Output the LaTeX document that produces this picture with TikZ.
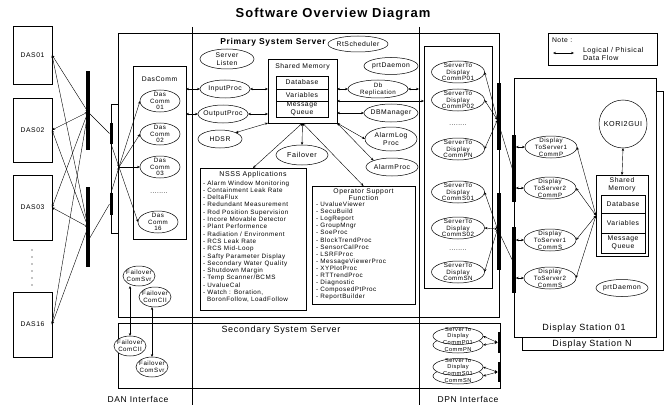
\documentclass[tikz,border=0pt]{standalone}
\usepackage{fontspec}
\setmainfont{Liberation Sans}[LetterSpace=8]
\usetikzlibrary{arrows.meta,shapes.geometric}
\begin{document}
\begin{tikzpicture}[x=1pt,y=-1pt,
  every node/.style={inner sep=0pt, outer sep=0pt},
  lbl/.style={font=\fontsize{6.2}{6.8}\selectfont, align=center},
  hdr/.style={font=\fontsize{6.8}{7.6}\selectfont, align=center},
  ell/.style={ellipse, draw, line width=0.5pt, fill=white},
  rbox/.style={draw, line width=0.6pt, anchor=north west},
  busbar/.style={fill=black, minimum width=3.5pt},
  flow/.style={<->, line width=0.4pt, >={Stealth[length=3pt,width=2.4pt]}},
  oneway/.style={->, line width=0.4pt, >={Stealth[length=3pt,width=2.4pt]}},
  thinline/.style={line width=0.4pt},
  lst/.style={font=\fontsize{6.3}{7.3}\selectfont, align=left, anchor=north west},
]
\useasboundingbox (0,0) rectangle (668,409);

% title
\node[font=\bfseries\fontsize{13}{15}\selectfont] (title) at (333,14) {Software Overview Diagram};

% interface lines
\coordinate (dantop) at (192,27);
\coordinate (danbot) at (192,405);
\coordinate (dpntop) at (419,27);
\coordinate (dpnbot) at (419,405);
\draw[line width=0.6pt] (dantop) -- (danbot);
\draw[line width=0.6pt] (dpntop) -- (dpnbot);

% DAS boxes
\node[rbox, minimum width=39pt, minimum height=58pt] (das01) at (13,26) {};
\node[hdr] (das01t) at (das01) {DAS01};
\node[rbox, minimum width=39pt, minimum height=64pt] (das02) at (13,98) {};
\node[hdr] (das02t) at (das02) {DAS02};
\node[rbox, minimum width=39pt, minimum height=65pt] (das03) at (13,175) {};
\node[hdr] (das03t) at (das03) {DAS03};
\node[rbox, minimum width=39pt, minimum height=65pt] (das16) at (13,292) {};
\node[hdr] (das16t) at (das16) {DAS16};
\foreach \yy in {250,257,264,271,278,285} { \fill (32,\yy) circle (0.6); }

% DAN bus bars
\node[busbar, minimum height=79pt] (bus1) at (88,110.5) {};
\node[busbar, minimum height=80pt] (bus2) at (88,227) {};
\node[busbar, minimum width=3pt, minimum height=21pt] (sbus1) at (111,133.5) {};
\node[busbar, minimum width=3pt, minimum height=22pt] (sbus2) at (111,204) {};
\coordinate (b1) at (88,112);
\coordinate (b2) at (88,227);
\coordinate (b2l) at (88,241);
\coordinate (P) at (119,167);
\foreach \d in {das01,das02,das03,das16} {
  \draw[flow] (\d.east) -- (b1);
  \draw[flow] (\d.east) -- (b2);
}
\draw[thinline] (b1) -- (sbus1.west);
\draw[thinline] (b2l) -- (sbus2.west);
\draw[thinline] (118,104) -- (111,104) -- (111,233) -- (118,233);
\draw[oneway] (sbus1.south) -- (P);
\draw[oneway] (sbus2.north) -- (P);

% server boxes
\node[rbox, minimum width=381pt, minimum height=284pt] (prim) at (118,33) {};
\node[font=\bfseries\fontsize{8.5}{10}\selectfont] (primt) at (273,42) {Primary System Server};
\node[rbox, minimum width=382pt, minimum height=65pt] (sec) at (118,323) {};
\node[font=\fontsize{9}{10}\selectfont] (sect) at (281,330) {Secondary System Server};

% DasComm group
\node[rbox, minimum width=53pt, minimum height=173pt] (dcbox) at (133,66) {};
\node[hdr] (dcboxt) at (159.5,79) {DasComm};
\node[ell, minimum width=40pt, minimum height=22pt] (dc01) at (160,101) {};
\node[lbl] (dc01t) at (dc01) {Das\\Comm\\01};
\node[ell, minimum width=40pt, minimum height=22pt] (dc02) at (160,134) {};
\node[lbl] (dc02t) at (dc02) {Das\\Comm\\02};
\node[ell, minimum width=40pt, minimum height=22pt] (dc03) at (160,167) {};
\node[lbl] (dc03t) at (dc03) {Das\\Comm\\03};
\node[lbl] (dcdots) at (159,193) {........};
\node[ell, minimum width=40pt, minimum height=22pt] (dc16) at (158,222) {};
\node[lbl] (dc16t) at (dc16) {Das\\Comm\\16};
\foreach \d in {dc01,dc02,dc03,dc16} { \draw[oneway] (P) -- (\d.west); }

% primary server processes
\node[ell, minimum width=54pt, minimum height=20pt] (slisten) at (227,59) {};
\node[hdr] (slistent) at (slisten) {Server\\Listen};
\node[ell, minimum width=50pt, minimum height=18pt] (inp) at (225,89) {};
\node[hdr] (inpt) at (inp) {InputProc};
\node[ell, minimum width=50pt, minimum height=18pt] (outp) at (223,114) {};
\node[hdr] (outpt) at (outp) {OutputProc};
\node[ell, minimum width=44pt, minimum height=18pt] (hdsr) at (220,139) {};
\node[hdr] (hdsrt) at (hdsr) {HDSR};

\node[rbox, minimum width=69pt, minimum height=64pt] (sm) at (268,59) {};
\node[hdr] (smt) at (302.5,66.5) {Shared Memory};
\node[rbox, minimum width=52pt, minimum height=41pt] (smtab) at (276,76) {};
\draw[thinline] (276,89) -- (328,89);
\draw[thinline] (276,101) -- (328,101);
\node[hdr] (smdb) at (302,82.5) {Database};
\node[hdr] (smvar) at (302,95) {Variables};
\node[hdr] (smmq) at (302,109) {Message\\Queue};

\node[ell, minimum width=60pt, minimum height=16pt] (rts) at (358,44) {};
\node[hdr] (rtst) at (rts) {RtScheduler};
\node[ell, minimum width=54pt, minimum height=17pt] (prtd) at (391,66) {};
\node[hdr] (prtdt) at (prtd) {prtDaemon};
\node[ell, minimum width=60pt, minimum height=18pt] (dbrep) at (378,89) {};
\node[lbl] (dbrept) at (dbrep) {Db\\Replication};
\node[ell, minimum width=54pt, minimum height=18pt] (dbm) at (391,113) {};
\node[hdr] (dbmt) at (dbm) {DBManager};
\node[ell, minimum width=52pt, minimum height=24pt] (alog) at (391,139) {};
\node[hdr] (alogt) at (alog) {AlarmLog\\Proc};
\node[ell, minimum width=52pt, minimum height=18pt] (aproc) at (392,167) {};
\node[hdr] (aproct) at (aproc) {AlarmProc};
\node[ell, minimum width=52pt, minimum height=20pt] (fo) at (302,155) {};
\node[font=\fontsize{7.2}{8}\selectfont] (fot) at (fo) {Failover};

% NSSS applications
\node[rbox, minimum width=106pt, minimum height=142pt] (nsss) at (200,168) {};
\node[font=\fontsize{7}{8}\selectfont] (nssst) at (253,175) {NSSS Applications};
\node[lst] (nssslist) at (203,180.5) {- Alarm Window Monitoring\\- Containment Leak Rate\\- DeltaFlux\\- Redundant Measurement\\- Rod Position Supervision\\- Incore Movable Detector\\- Plant Performence\\- Radiation / Environment\\- RCS Leak Rate\\- RCS Mid-Loop\\- Safty Parameter Display\\- Secondary Water Quality\\- Shutdown Margin\\- Temp Scanner/BCMS\\- UvalueCal\\- Watch : Boration,\\\hspace*{4pt}BoronFollow, LoadFollow};

% Operator support
\node[rbox, minimum width=103pt, minimum height=118pt] (os) at (312,186) {};
\node[font=\fontsize{6.8}{7.6}\selectfont, align=center] (ost) at (363.5,194.5) {Operator Support\\Function};
\node[lst, font=\fontsize{6.3}{7.1}\selectfont] (oslist) at (316,202) {- UvalueViewer\\- SecuBuild\\- LogReport\\- GroupMngr\\- SoeProc\\- BlockTrendProc\\- SensorCalProc\\- LSRFProc\\- MessageViewerProc\\- XYPlotProc\\- RTTrendProc\\- Diagnostic\\- ComposedPtProc\\- ReportBuilder};

% connectors around shared memory
\draw[flow] (dcbox.east |- inp.west) -- (inp.west);
\draw[flow] (dcbox.east |- outp.west) -- (outp.west);
\draw[flow] (inp.east) -- (sm.west |- inp.east);
\draw[flow] (outp.east) -- (sm.west |- outp.east);
\draw[flow] (hdsr.north east) -- (sm.south west);
\draw[flow] (sm.east |- dbrep.west) -- (dbrep.west);
\draw[flow] (sm.east |- dbm.west) -- (dbm.west);
\draw[flow] (sm.south east) -- (alog.west);
\draw[flow] (sm.south east) -- (aproc.north west);
\draw[flow] (dbrep.east) -- (dbrep.east -| dpntop);
\coordinate (smr) at (337,101);
\draw[flow] (sm.south) -- (fo.north);
\draw[flow] (sm.south) -- (nsss.north);
\draw[flow] (sm.south) -- (os.north);

% ServerToDisplay group
\node[rbox, minimum width=68pt, minimum height=242pt] (sdbox) at (424,46) {};
\draw[flow] (smr) -- (smr -| sdbox.west);
\node[ell, minimum width=53pt, minimum height=22pt] (sdp01) at (458,72) {};
\node[lbl] (sdp01t) at (sdp01) {ServerTo\\Display\\CommP01};
\node[ell, minimum width=53pt, minimum height=22pt] (sdp02) at (458,100) {};
\node[lbl] (sdp02t) at (sdp02) {ServerTo\\Display\\CommP02};
\node[lbl] (sdpdots) at (458,125) {........};
\node[ell, minimum width=53pt, minimum height=22pt] (sdpn) at (458,149) {};
\node[lbl] (sdpnt) at (sdpn) {ServerTo\\Display\\CommPN};
\node[ell, minimum width=53pt, minimum height=22pt] (sds01) at (458,192) {};
\node[lbl] (sds01t) at (sds01) {ServerTo\\Display\\CommS01};
\node[ell, minimum width=53pt, minimum height=22pt] (sds02) at (458,228) {};
\node[lbl] (sds02t) at (sds02) {ServerTo\\Display\\CommS02};
\node[lbl] (sdsdots) at (458,250) {........};
\node[ell, minimum width=53pt, minimum height=22pt] (sdsn) at (458,272) {};
\node[lbl] (sdsnt) at (sdsn) {ServerTo\\Display\\CommSN};

\node[busbar, minimum height=67pt] (busA) at (499,116.5) {};
\node[busbar, minimum height=77pt] (busB) at (499,231.5) {};
\coordinate (cA) at (497.5,120);
\coordinate (cB) at (497.5,229);
\foreach \d in {sdp01,sdp02,sdpn} { \draw[flow] (\d.east) -- (cA); }
\foreach \d in {sds01,sds02,sdsn} { \draw[flow] (\d.east) -- (cB); }

% secondary server DPN processes
\node[ell, minimum width=50pt, minimum height=16pt] (spn) at (458,345) {};
\node[lbl, font=\fontsize{5.7}{6.3}\selectfont] (spnt) at (458,349.5) {CommPN};
\node[ell, minimum width=50pt, minimum height=17pt] (sp01) at (458,336) {};
\node[lbl, font=\fontsize{5.7}{6.3}\selectfont] (sp01t) at (sp01) {ServerTo\\Display\\CommP01};
\node[ell, minimum width=50pt, minimum height=16pt] (ssn) at (458,376) {};
\node[lbl, font=\fontsize{5.7}{6.3}\selectfont] (ssnt) at (458,380.5) {CommSN};
\node[ell, minimum width=50pt, minimum height=17pt] (ss01) at (458,367) {};
\node[lbl, font=\fontsize{5.7}{6.3}\selectfont] (ss01t) at (ss01) {ServerTo\\Display\\CommS01};
\node[busbar, minimum width=3pt, minimum height=21pt] (sbA) at (499,342.5) {};
\node[busbar, minimum width=3pt, minimum height=20pt] (sbB) at (499,372) {};
\draw[flow] (sp01.east) -- (sbA.west);
\draw[flow] (spn.east) -- (sbA.west);
\draw[flow] (ss01.east) -- (sbB.west);
\draw[flow] (ssn.east) -- (sbB.west);

% failover pairs
\node[ell, minimum width=32pt, minimum height=20pt] (f1) at (139,276) {};
\node[lbl] (f1t) at (f1) {Failover\\ComSvr};
\node[ell, minimum width=32pt, minimum height=20pt] (f2) at (155,297) {};
\node[lbl] (f2t) at (f2) {Failover\\ComCII};
\node[ell, minimum width=32pt, minimum height=20pt] (f3) at (130,346) {};
\node[lbl] (f3t) at (f3) {Failover\\ComCII};
\node[ell, minimum width=32pt, minimum height=20pt] (f4) at (152,367) {};
\node[lbl] (f4t) at (f4) {Failover\\ComSvr};
\draw[flow] (f3.north |- f1.south) -- (f3.north);
\draw[flow] (f4.north |- f2.south) -- (f4.north);

% display stations
\node[rbox, fill=white, minimum width=141pt, minimum height=259pt] (dsn) at (522,91) {};
\node[rbox, fill=white, minimum width=142pt, minimum height=259pt] (ds01) at (514,78) {};
\node[font=\fontsize{9}{10}\selectfont] (ds01t) at (584,328) {Display Station 01};
\node[font=\fontsize{9}{10}\selectfont] (dsnt) at (592,344) {Display Station N};
\node[busbar, minimum height=67pt] (dbus1) at (514,168.5) {};
\node[busbar, minimum height=66pt] (dbus2) at (514,260) {};
\draw[thinline] (cA) -- (dbus1.west);
\draw[thinline] (cB) -- (dbus2.west);

\node[ell, minimum width=52pt, minimum height=22pt] (dts1p) at (551,147) {};
\node[lbl] (dts1pt) at (dts1p) {Display\\ToServer1\\CommP};
\node[ell, minimum width=52pt, minimum height=22pt] (dts2p) at (550,188) {};
\node[lbl] (dts2pt) at (dts2p) {Display\\ToServer2\\CommP};
\node[ell, minimum width=52pt, minimum height=22pt] (dts1s) at (550,240) {};
\node[lbl] (dts1st) at (dts1s) {Display\\ToServer1\\CommS};
\node[ell, minimum width=52pt, minimum height=22pt] (dts2s) at (550,278) {};
\node[lbl] (dts2st) at (dts2s) {Display\\ToServer2\\CommS};
\draw[flow] (dbus1.east |- dts1p.west) -- (dts1p.west);
\draw[flow] (dbus1.east |- dts2p.west) -- (dts2p.west);
\draw[flow] (dbus2.east |- dts1s.west) -- (dts1s.west);
\draw[flow] (dbus2.east |- dts2s.west) -- (dts2s.west);

\node[circle, draw, line width=0.5pt, minimum size=48pt] (kori) at (623,124) {};
\node[hdr, font=\fontsize{7.2}{8}\selectfont] (korit) at (kori) {KORI2GUI};
\node[rbox, minimum width=52pt, minimum height=81pt] (dsm) at (596,175) {};
\node[hdr] (dsmt) at (622,185) {Shared\\Memory};
\node[rbox, minimum width=44pt, minimum height=58pt] (dsmtab) at (601,195) {};
\draw[thinline] (601,213) -- (645,213);
\draw[thinline] (601,233) -- (645,233);
\node[hdr] (dsmdb) at (623,204) {Database};
\node[hdr] (dsmvar) at (623,223) {Variables};
\node[hdr] (dsmmq) at (623,243) {Message\\Queue};
\draw[flow] (kori.south) -- (dsm.north);
\foreach \d in {dts1p,dts2p,dts1s,dts2s} { \draw[flow] (\d.east) -- (dsm.west); }
\node[ell, minimum width=52pt, minimum height=17pt] (prtd2) at (622,288) {};
\node[hdr] (prtd2t) at (prtd2) {prtDaemon};

% note
\node[rbox, minimum width=109pt, minimum height=32pt] (note) at (548,33) {};
\node[hdr, anchor=west] (notet) at (552,40.5) {Note :};
\coordinate (na) at (553,53);
\coordinate (nb) at (574,53);
\draw[flow] (na) -- (nb);
\node[font=\fontsize{7}{8}\selectfont, align=left, anchor=west] (notel) at (583,53.5) {Logical / Phisical\\Data Flow};

% interface labels
\node[font=\fontsize{8.5}{10}\selectfont] (danl) at (138,399) {DAN Interface};
\node[font=\fontsize{8.5}{10}\selectfont] (dpnl) at (468,399) {DPN Interface};
\end{tikzpicture}
\end{document}
